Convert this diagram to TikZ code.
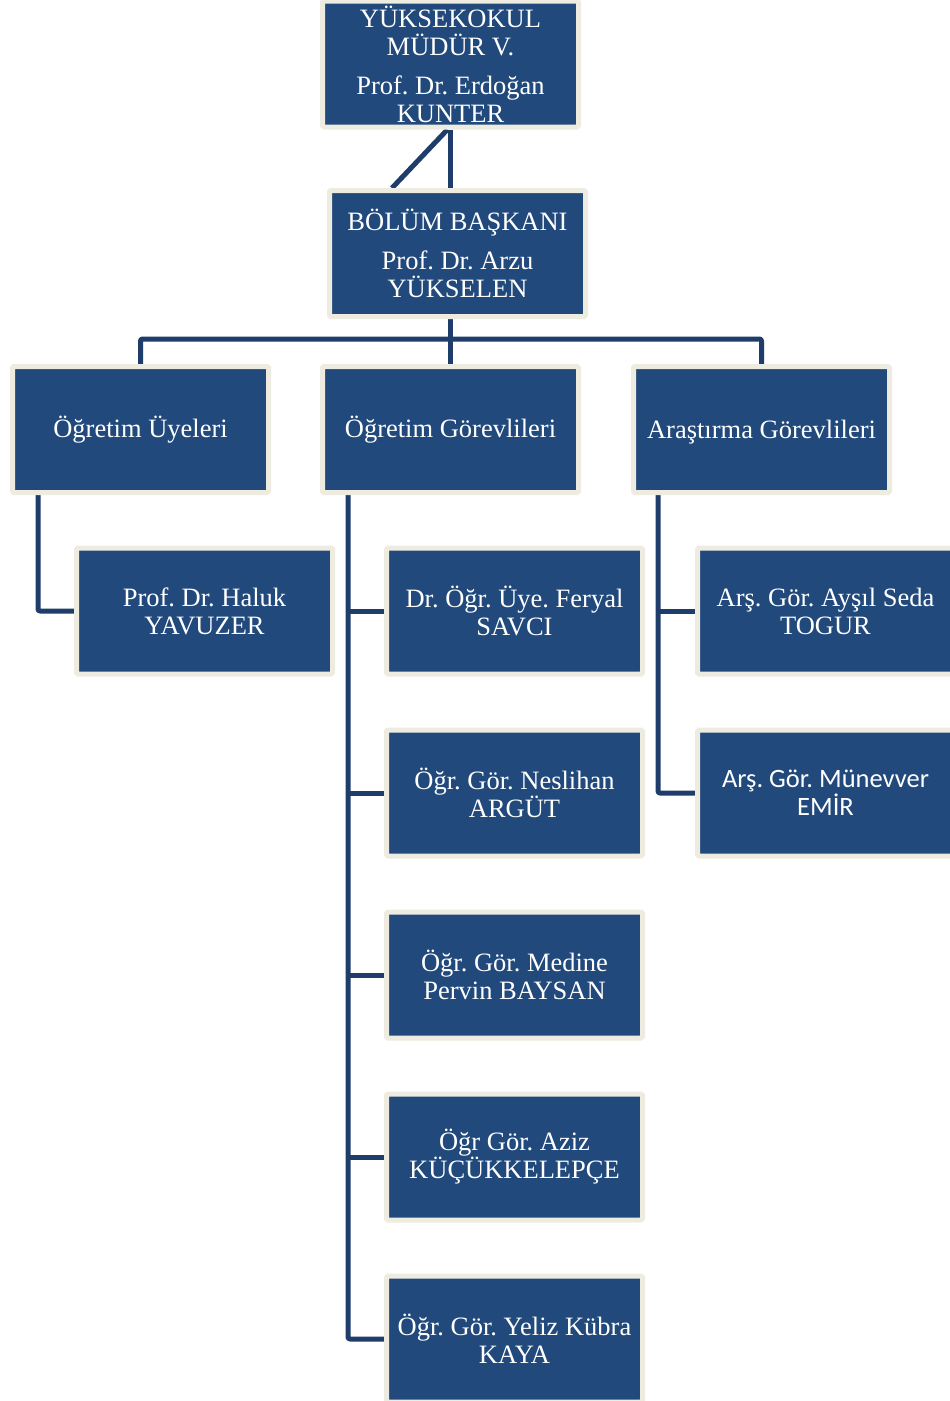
\documentclass[tikz,border=0pt]{standalone}
\usepackage{fontspec}
\setmainfont{Liberation Serif}
\newfontfamily\calfont{Carlito}
\usetikzlibrary{calc,backgrounds}
\frenchspacing
\definecolor{boxblue}{RGB}{33,73,123}
\definecolor{cream}{RGB}{238,236,225}
\definecolor{lineblue}{RGB}{31,61,107}
\tikzset{
  orgbox/.style={draw=cream, fill=boxblue, line width=5pt, rounded corners=1.5pt,
    minimum width=256pt, minimum height=126pt, inner sep=0pt, align=center,
    text=white, font=\fontsize{26.5}{28}\selectfont},
  conn/.style={draw=lineblue, line width=5pt, line join=round, rounded corners=2pt}
}
\begin{document}
\begin{tikzpicture}[x=1pt,y=-1pt]
\useasboundingbox (0,0) rectangle (950,1401);
\clip (0,0) rectangle (950,1401);
% nodes
\node[orgbox] (top) at (450.5,64) {YÜKSEKOKUL\\MÜDÜR V.\\[11pt]Prof. Dr. Erdoğan\\KUNTER};
\node[orgbox] (dept) at (457.5,253.5) {BÖLÜM BAŞKANI\\[11pt]Prof. Dr. Arzu\\YÜKSELEN};
\node[orgbox] (g1) at (140.5,429.5) {Öğretim Üyeleri};
\node[orgbox] (g2) at (450.5,429.5) {Öğretim Görevlileri};
\node[orgbox, text depth=1pt] (g3) at (761.5,429.5) {Araştırma Görevlileri};
\node[orgbox] (c11) at (204.5,611) {Prof. Dr. Haluk\\YAVUZER};
\node[orgbox] (c21) at (514.5,611) {Dr. Öğr. Üye. Feryal\\SAVCI};
\node[orgbox] (c22) at (514.5,793) {Öğr. Gör. Neslihan\\ARGÜT};
\node[orgbox] (c23) at (514.5,975) {Öğr. Gör. Medine\\Pervin BAYSAN};
\node[orgbox] (c24) at (514.5,1157) {Öğr Gör. Aziz\\KÜÇÜKKELEPÇE};
\node[orgbox] (c25) at (514.5,1339) {Öğr. Gör. Yeliz Kübra\\KAYA};
\node[orgbox] (c31) at (825.5,611) {Arş. Gör. Ayşıl Seda\\TOGUR};
\node[orgbox, font=\calfont\fontsize{26.5}{28}\selectfont] (c32) at (825.5,793) {Arş. Gör. Münevver\\EMİR};
% connectors (behind boxes)
\begin{pgfonlayer}{background}
\fill[white] (0,0) rectangle (950,1401);
\draw[conn] (top.south) -- (top.south |- dept.north);
\draw[conn] ($(top.south)+(-3,0)$) -- ($(dept.north west)+(65,0)$);
\coordinate (bus) at ($(dept.south -| g2.north)+(0,20)$);
\draw[conn] (dept.south -| g2.north) -- (g2.north);
\draw[conn] (g1.north) |- (bus) -| (g3.north);
\coordinate (t1) at ($(g1.south west)+(28,0)$);
\coordinate (t2) at ($(g2.south west)+(28,0)$);
\coordinate (t3) at ($(g3.south west)+(27,0)$);
\draw[conn] (t1) |- (c11.west);
\draw[conn] (t2) |- (c25.west);
\foreach \k in {1,2,3,4} \draw[conn] (c2\k.west) -- (c2\k.west -| t2);
\draw[conn] (t3) |- (c32.west);
\draw[conn] (c31.west) -- (c31.west -| t3);
\end{pgfonlayer}
\end{tikzpicture}
\end{document}
